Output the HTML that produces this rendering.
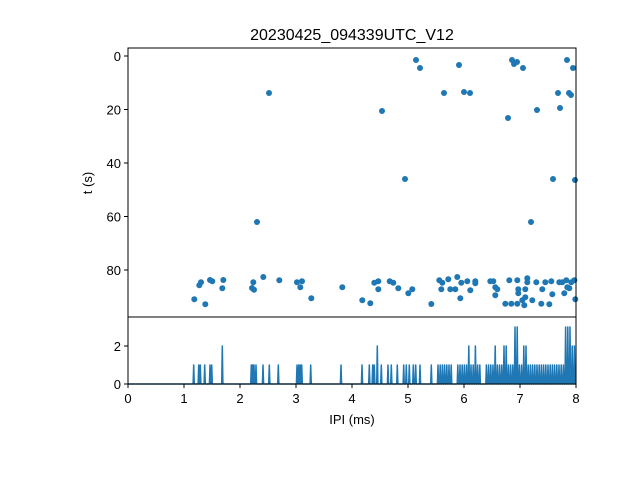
<!DOCTYPE html>
<html><head><meta charset="utf-8"><style>
html,body{margin:0;padding:0;background:#fff;}
svg text{font-family:"Liberation Sans","DejaVu Sans",sans-serif;fill:#000;}
</style></head><body>
<svg id="s" width="640" height="480" xmlns="http://www.w3.org/2000/svg">
<rect width="640" height="480" fill="#fff"/>
<text x="352" y="40" font-size="16" text-anchor="middle">20230425_094339UTC_V12</text>
<g id="pts" fill="#1f77b4"></g>
<polyline id="ln" fill="none" stroke="#1f77b4" stroke-width="1.5" stroke-linejoin="round"/>
<rect x="128" y="48" width="448" height="269" fill="none" stroke="#000" stroke-width="1"/>
<rect x="128" y="317" width="448" height="67" fill="none" stroke="#000" stroke-width="1"/>
<g stroke="#000" stroke-width="1" id="ticks"></g>
<g font-size="13" id="labs"></g>
<text x="352" y="424" font-size="13" text-anchor="middle">IPI (ms)</text>
<text x="92" y="183" font-size="13" text-anchor="middle" transform="rotate(-90 92 183)">t (s)</text>
</svg>
<script>
const P=[[194.3,299.3],[199.3,285.3],[201,282.3],[205.3,304.3],[210,280],[212.3,281.3],[223.3,280],[222.3,288.3],[253.3,282.3],[252,288],[254,289.7],[263.3,277],[279.3,280.3],[297,282.3],[302,281.3],[300.3,287.3],[311.3,298.3],[342.3,287.3],
[362.3,300.3],[370.3,303.3],[374.3,282.7],[378.3,281.3],[378.3,289.3],[389.7,281.3],[393.3,282.7],[398.3,288.3],[408.3,293.3],[412.3,289.3],[431.3,304],[439.3,280.3],[442.3,282.7],[441.3,289.3],[448.3,279.3],[450.3,289.3],[455.3,289.3],[457.3,277],[460.3,298.3],[461.3,282.7],[467.3,281.3],[470.3,290.3],[475.3,281.3],[475.3,283.3],[490.3,281.3],[493.3,281.3],[495.3,287.3],[497.3,289.3],[495.3,295.3],[505.3,303.7],[509.3,280.3],[511.3,303.7],[517.3,280.3],[517.3,303.7],[518.3,289.3],[518.3,293.3],[522.3,300.3],[524.3,305.3],[525.3,289.3],[525.3,297.3],[527.3,278.3],[527.3,282.3],[532.3,300.3],[536.3,282.3],[541.3,303.7],[542.3,289.3],[545.3,282.3],[549.3,304.3],[551.3,281.3],[552.3,294.3],[559.3,282.3],[562.3,282.3],[564.3,293.3],[566.3,280.3],[567.3,287.3],[569.3,288.3],[571.3,282.3],[574.3,280.3],[575.3,299.3],
[269,93],[382,111],[405,179],[416,60],[420,68],[444,93],[459,65],[464,92],[470,93],[508,118],[512,60],[514,64],[517,62],[523,68],[531,222],[537,110],[553,179],[558,93],[560,108],[567,60],[569,93],[571,95],[573,68],[575,180],[257,222]];
const NS="http://www.w3.org/2000/svg";
const g=document.getElementById('pts');
P.forEach(p=>{const c=document.createElementNS(NS,'circle');c.setAttribute('cx',p[0]);c.setAttribute('cy',p[1]);c.setAttribute('r',3);g.appendChild(c);});
// spikes
let S=[[193.7,1],[198.7,1],[200.3,1],[204.7,1],[210,1],[211.7,1],[222.3,2],[251.3,1],[252.7,1],[254,1],[256,1],[263,1],[269.3,1],[278.3,1],[297,1],[298.7,1],[300.3,1],[301.7,1],[310.7,1],[341,1],
[362,1],[369.3,1],[372.7,1],[374.3,1],[377.3,2],[381.3,1],[388,1],[391.3,1],[397.3,1],[403.7,1],[406.3,1],[409.3,1],[413.3,1],[415.7,1],[420,1],[431.3,1]];
const big={469:2,475:2,495:2,505:2,516:3,525:2,565:3,567:3,570:3,573:2};
for(let x=438;x<=575;x+=2.2){let xi=Math.round(x);let h=1;for(const k in big){if(Math.abs(xi-k)<1.5)h=big[k];}
 if((x>452&&x<456)||(x>480&&x<486))continue; S.push([x,h]);}
S.sort((a,b)=>a[0]-b[0]);
let pts=["128,384"];
S.forEach(s=>{const y=384-19*s[1];pts.push((s[0]-0.6)+",384",s[0]+","+y,(s[0]+0.6)+",384");});
pts.push("576,384");
document.getElementById('ln').setAttribute('points',pts.join(' '));
const t=document.getElementById('ticks'),l=document.getElementById('labs');
function line(x1,y1,x2,y2){const e=document.createElementNS(NS,'line');e.setAttribute('x1',x1);e.setAttribute('y1',y1);e.setAttribute('x2',x2);e.setAttribute('y2',y2);t.appendChild(e);}
function txt(x,y,s,a){const e=document.createElementNS(NS,'text');e.setAttribute('x',x);e.setAttribute('y',y);e.setAttribute('text-anchor',a);e.textContent=s;l.appendChild(e);}
for(let i=0;i<=8;i++){const x=128+56*i;line(x,384,x,388);txt(x,403,String(i),'middle');}
[0,20,40,60,80].forEach(v=>{const y=56+v*2.675;line(124,y,128,y);txt(121,y+5,String(v),'end');});
[0,2].forEach(v=>{const y=384-19*v;line(124,y,128,y);txt(121,y+5,String(v),'end');});
</script>
</body></html>
